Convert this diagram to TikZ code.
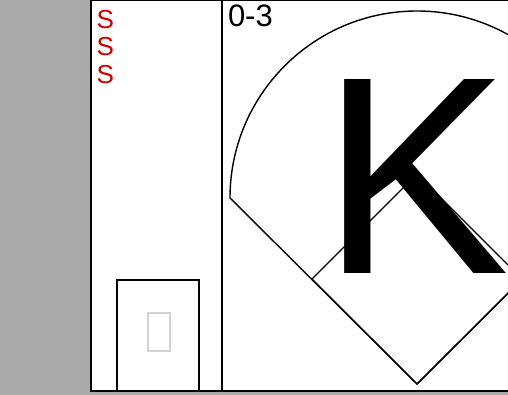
\documentclass[tikz,border=0pt]{standalone}
\usepackage{fontspec}
\setmainfont{Liberation Sans}
\usepackage{tikz}
\usepackage{xcolor}
\definecolor{strikered}{HTML}{CC0000}
\definecolor{panelgray}{HTML}{AAAAAA}
\definecolor{glyphgray}{HTML}{D4D4D4}

\begin{document}
\begin{tikzpicture}[x=1pt, y=-1pt,
  frame/.style={line width=1.6pt},
  field/.style={line width=1.4pt},
  pitch/.style={text=strikered, font=\fontsize{26}{26}\selectfont, inner sep=0pt, anchor=base west}]
\useasboundingbox (0,0) rectangle (508,395);
\clip (0,0) rectangle (508,395);
% Draw background and card
\fill[panelgray] (0,0) rectangle (508,395);
\draw[frame, fill=white] (91,0.5) rectangle (530,391);
\draw[frame] (222,0) -- (222,391);

% Pitches
\node[pitch] (pitch1) at (96.5,29) {S};
\node[pitch] (pitch2) at (96.5,56) {S};
\node[pitch] (pitch3) at (96.5,84) {S};

% Count
\node[anchor=base west, inner sep=0pt, font=\fontsize{31}{31}\selectfont] (count) at (227.8,26.5) {0-3};

% Batter box
\draw[frame] (117,391) -- (117,280) -- (199,280) -- (199,391);
\draw[glyphgray, line width=2pt] (148,313) rectangle (170,351);

% Field
\coordinate (home) at (417,384);
\coordinate (lfoul) at (230,198);
\coordinate (third) at (312,279);
\coordinate (second) at (417,174);
\coordinate (first) at (522,279);
\draw[field] (home) -- (lfoul) arc[start angle=180, end angle=360, radius=187] -- cycle;
\draw[field] (home) -- (third) -- (second) -- (first) -- cycle;

% Result
\node[anchor=base west, inner sep=0pt, font=\fontsize{282}{282}\selectfont] (result) at (321,273.5) {K};
\end{tikzpicture}
\end{document}
